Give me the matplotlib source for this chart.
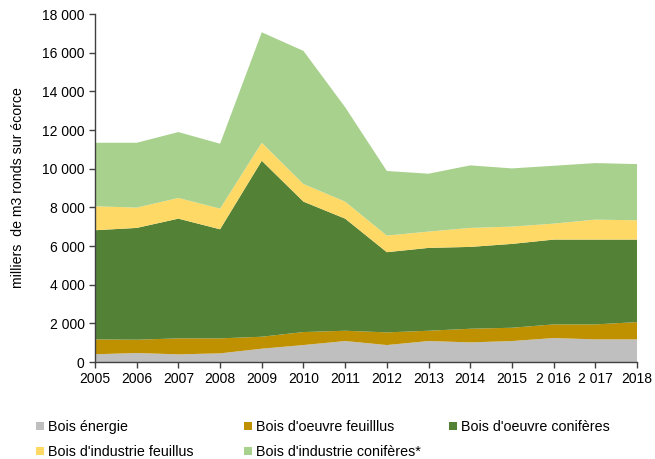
import matplotlib
matplotlib.use("Agg")
import matplotlib.pyplot as plt
from matplotlib.patches import Patch

plt.rcParams['font.family'] = ['Liberation Sans', 'DejaVu Sans']

years = list(range(2005, 2019))
year_labels = ['2005', '2006', '2007', '2008', '2009', '2010', '2011', '2012',
               '2013', '2014', '2015', '2 016', '2 017', '2018']

bois_energie = [400, 465, 396, 447, 688, 877, 1084, 877, 1084, 1015, 1084, 1239, 1170, 1170]
bois_oeuvre_feuillus = [770, 688, 826, 775, 620, 672, 533, 655, 533, 705, 688, 705, 774, 894]
bois_oeuvre_coniferes = [5645, 5782, 6193, 5643, 9102, 6745, 5798, 4148, 4285, 4233, 4336, 4388, 4388, 4268]
bois_industrie_feuillus = [1240, 1050, 1070, 1068, 930, 911, 879, 858, 844, 982, 895, 825, 1032, 998]
bois_industrie_coniferes = [3285, 3355, 3408, 3357, 5715, 6885, 4886, 3342, 2994, 3235, 3011, 2993, 2925, 2907]

labels = ["Bois énergie", "Bois d'oeuvre feuilllus", "Bois d'oeuvre conifères",
          "Bois d'industrie feuillus", "Bois d'industrie conifères*"]
colors = ['#BFBFBF', '#BF9000', '#538135', '#FFD966', '#A9D18E']

fig = plt.figure(figsize=(6.55, 4.59), dpi=100)
ax = fig.add_axes([95/655, 1 - 362/459, (637-95)/655, (362-14)/459])

ax.stackplot(years, bois_energie, bois_oeuvre_feuillus, bois_oeuvre_coniferes,
             bois_industrie_feuillus, bois_industrie_coniferes,
             colors=colors, linewidth=0)

ax.set_xlim(2005, 2018)
ax.set_ylim(0, 18000)
ax.set_xticks(years)
ax.set_xticklabels(year_labels)
yt = list(range(0, 18001, 2000))
ax.set_yticks(yt)
ax.set_yticklabels([f"{v:,}".replace(",", " ") for v in yt])
ax.tick_params(axis='both', labelsize=10, length=4, width=1, color='#404040', direction='out')
ax.tick_params(axis='x', pad=3)
for s in ['top', 'right']:
    ax.spines[s].set_visible(False)
for s in ['left', 'bottom']:
    ax.spines[s].set_color('#404040')
    ax.spines[s].set_linewidth(1)
ax.set_ylabel("milliers  de m3 ronds sur écorce", fontsize=10.2, labelpad=12)

# legend entries laid out in a 3-column grid
positions = [(36, 427), (244, 427), (449, 427), (36, 452), (244, 452)]
for lab, col, (px, py) in zip(labels, colors, positions):
    fig.legend(handles=[Patch(facecolor=col, edgecolor='none')], labels=[lab],
               loc='center left', bbox_to_anchor=(px/655, 1 - py/459),
               frameon=False, fontsize=10.3, handlelength=0.55, handleheight=0.55,
               handletextpad=0.3, borderpad=0, borderaxespad=0)

fig.savefig("out.png", dpi=100)
